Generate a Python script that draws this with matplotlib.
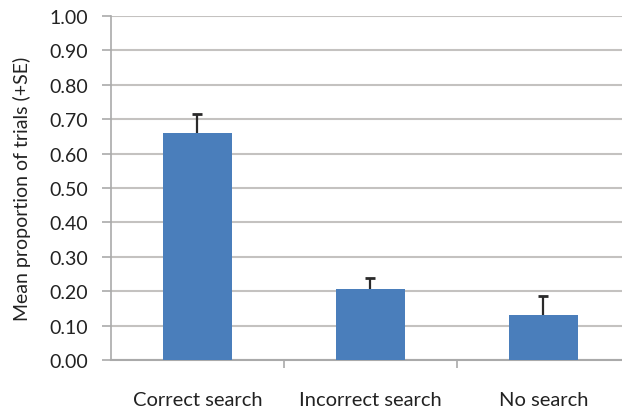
import numpy as np
import matplotlib
matplotlib.use('Agg')
import matplotlib.pyplot as plt
from matplotlib.ticker import FixedLocator

categories = ['Correct search', 'Incorrect search', 'No search']
means = [0.66, 0.205, 0.132]
se = [0.055, 0.033, 0.053]
yticks = [0.0, 0.1, 0.2, 0.3, 0.4, 0.5, 0.6, 0.7, 0.8, 0.9, 1.0]

plt.rcParams['font.family'] = ['Lato', 'DejaVu Sans']

fig = plt.figure(figsize=(6.22, 4.10), dpi=100)
ax = fig.add_axes([111 / 622, 49 / 410, 519 / 622, 344 / 410])

x = np.arange(len(categories))
tops = np.array(means) + np.array(se)
ax.bar(x, means, width=0.4, color='#4a7ebb', zorder=3)
# only the upper half of the error bar, like the original
ax.vlines(x, means, tops, color='#2a2a2a', linewidth=1.6, zorder=4)
ax.plot(x, tops, linestyle='none', marker='_', markersize=7, markeredgewidth=2,
        color='#2a2a2a', zorder=4)

ax.set_xlim(-0.5, len(categories) - 0.5)
ax.set_ylim(0, 1.0)
ax.set_yticks(yticks)
ax.set_yticklabels(['%.2f' % v for v in yticks])
ax.yaxis.grid(True, color='#c4c2c0', linewidth=1.5, zorder=0)
ax.set_axisbelow(True)

ax.set_xticks(x)
ax.set_xticklabels(categories)
ax.xaxis.set_minor_locator(FixedLocator([0.5, 1.5]))
ax.tick_params(axis='x', which='major', length=0, pad=22, labelsize=14.5, colors='#222222')
ax.tick_params(axis='x', which='minor', length=6, width=1.2, color='#aaaaaa', direction='out')
ax.tick_params(axis='y', length=6.5, width=1.2, color='#aaaaaa', pad=10, labelsize=14, labelcolor='#222222')

for s in ['top', 'right']:
    ax.spines[s].set_visible(False)
ax.spines['left'].set_color('#aaaaaa')
ax.spines['left'].set_linewidth(1.2)
ax.spines['bottom'].set_color('#aaaaaa')
ax.spines['bottom'].set_linewidth(1.5)

ax.set_ylabel('Mean proportion of trials (+SE)', fontsize=14, color='#222222', labelpad=13)

fig.savefig('out.png', dpi=100)
